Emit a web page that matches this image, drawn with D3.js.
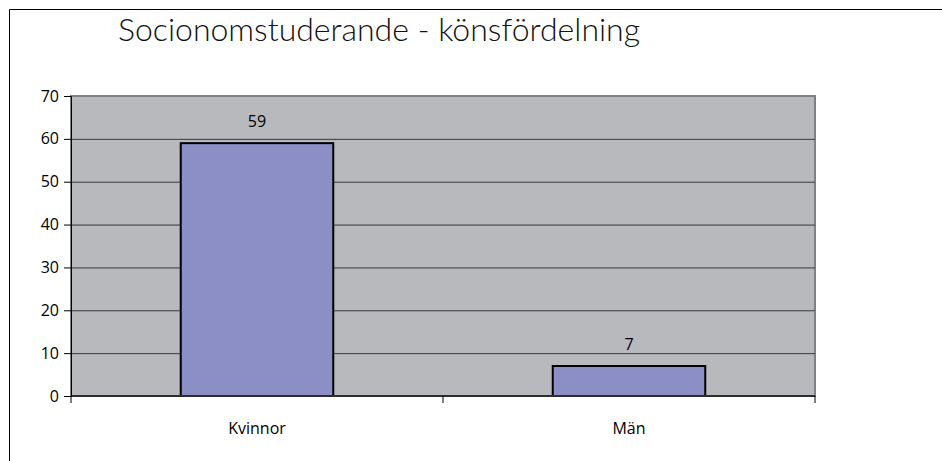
<!DOCTYPE html>
<html>
<head>
<meta charset="utf-8">
<script src="https://cdn.jsdelivr.net/npm/d3@7"></script>
<style>
  body { margin: 0; background: #fff; }
  svg { display: block; }
</style>
</head>
<body>
<svg class="target"></svg>
<script>
const categories = ["Kvinnor", "Män"];
const values = [59, 7];
const yTicks = [0, 10, 20, 30, 40, 50, 60, 70];
const title = "Socionomstuderande - könsfördelning";

document.addEventListener("DOMContentLoaded", function() {
    drawChart();
});

function drawChart() {
    const width = 942;
    const height = 461;
    const plot = {left: 71, right: 815, top: 96, bottom: 396};
    const labelFont = "Open Sans";
    const labelSize = 16;

    const svg = d3.select(".target")
        .attr("width", width)
        .attr("height", height);

    // outer frame (right/bottom edges fall outside the picture)
    svg.append("path")
        .attr("d", "M9.5," + height + "V9.5H" + width)
        .attr("fill", "none")
        .attr("stroke", "#000")
        .attr("stroke-width", 1);

    svg.append("text")
        .attr("x", 118)
        .attr("y", 41)
        .attr("font-family", "Lato")
        .attr("font-weight", 300)
        .attr("font-size", 32)
        .attr("fill", "#111")
        .text(title);

    const x = d3.scaleBand()
        .domain(categories)
        .range([plot.left, plot.right]);

    const y = d3.scaleLinear()
        .domain([0, 70])
        .range([plot.bottom, plot.top]);

    // plot background
    svg.append("rect")
        .attr("x", plot.left)
        .attr("y", plot.top)
        .attr("width", plot.right - plot.left)
        .attr("height", plot.bottom - plot.top)
        .attr("fill", "#b8b9bd")
        .attr("stroke", "#808080")
        .attr("stroke-width", 2);

    // gridlines
    svg.append("g")
        .selectAll("line")
        .data(yTicks.filter(d => d > 0 && d < 70))
        .enter()
        .append("line")
        .attr("x1", plot.left)
        .attr("x2", plot.right)
        .attr("y1", d => y(d) + 0.5)
        .attr("y2", d => y(d) + 0.5)
        .attr("stroke", "#3a3a3a")
        .attr("stroke-width", 1);

    // bars
    const barW = x.bandwidth() * 0.41;
    svg.append("g")
        .selectAll("rect")
        .data(values)
        .enter()
        .append("rect")
        .attr("x", (d, i) => x(categories[i]) + (x.bandwidth() - barW) / 2)
        .attr("y", d => y(d))
        .attr("width", barW)
        .attr("height", d => y(0) - y(d))
        .attr("fill", "#8b8fc6")
        .attr("stroke", "#000")
        .attr("stroke-width", 2);

    // value labels
    svg.append("g")
        .selectAll("text")
        .data(values)
        .enter()
        .append("text")
        .attr("x", (d, i) => x(categories[i]) + x.bandwidth() / 2)
        .attr("y", d => y(d) - 16)
        .attr("text-anchor", "middle")
        .attr("font-family", labelFont)
        .attr("font-size", labelSize)
        .attr("fill", "#000")
        .text(d => d);

    // floor line
    svg.append("line")
        .attr("x1", plot.left)
        .attr("x2", plot.right)
        .attr("y1", plot.bottom)
        .attr("y2", plot.bottom)
        .attr("stroke", "#5a5a5a")
        .attr("stroke-width", 2);

    // y axis
    const yAxis = svg.append("g")
        .attr("transform", "translate(" + plot.left + ",0)")
        .call(d3.axisLeft(y).tickValues(yTicks).tickSize(7).tickPadding(5));
    yAxis.select(".domain").attr("stroke", "#000");
    yAxis.selectAll(".tick line").attr("stroke", "#000");
    yAxis.selectAll("text")
        .attr("font-family", labelFont)
        .attr("font-size", labelSize)
        .attr("fill", "#000");

    // x axis: ticks on band edges, labels at centres
    const xAxis = svg.append("g")
        .attr("transform", "translate(0," + plot.bottom + ")");
    xAxis.append("line")
        .attr("x1", plot.left)
        .attr("x2", plot.right)
        .attr("stroke", "#000");
    xAxis.selectAll(".edge")
        .data([plot.left].concat(categories.map(c => x(c) + x.bandwidth())))
        .enter()
        .append("line")
        .attr("class", "edge")
        .attr("x1", d => d)
        .attr("x2", d => d)
        .attr("y1", 0)
        .attr("y2", 7)
        .attr("stroke", "#000");
    xAxis.selectAll("text")
        .data(categories)
        .enter()
        .append("text")
        .attr("x", d => x(d) + x.bandwidth() / 2)
        .attr("y", 38)
        .attr("text-anchor", "middle")
        .attr("font-family", labelFont)
        .attr("font-size", labelSize)
        .attr("fill", "#000")
        .text(d => d);
}
</script>
</body>
</html>
